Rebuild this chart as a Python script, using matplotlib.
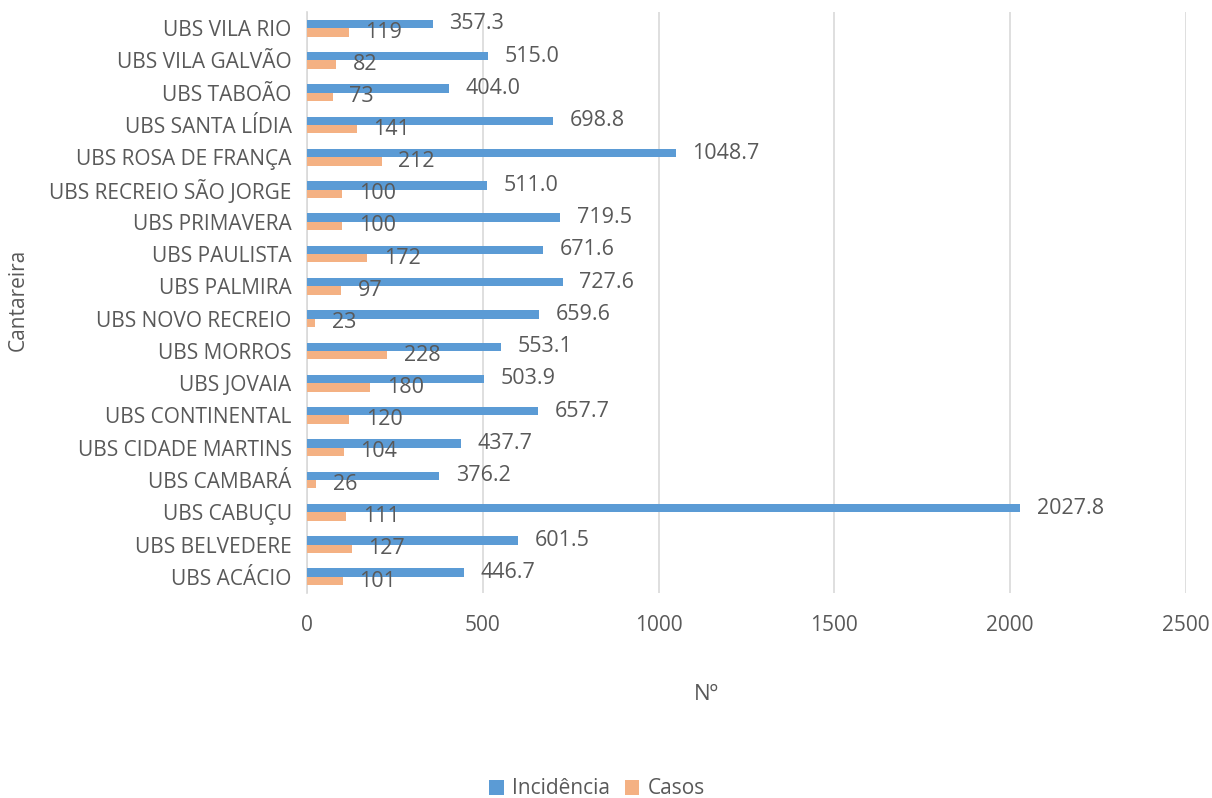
import numpy as np
import matplotlib.pyplot as plt

plt.rcParams['font.family'] = ['Open Sans', 'DejaVu Sans']

units = ['UBS ACÁCIO', 'UBS BELVEDERE', 'UBS CABUÇU', 'UBS CAMBARÁ', 'UBS CIDADE MARTINS',
         'UBS CONTINENTAL', 'UBS JOVAIA', 'UBS MORROS', 'UBS NOVO RECREIO', 'UBS PALMIRA',
         'UBS PAULISTA', 'UBS PRIMAVERA', 'UBS RECREIO SÃO JORGE', 'UBS ROSA DE FRANÇA',
         'UBS SANTA LÍDIA', 'UBS TABOÃO', 'UBS VILA GALVÃO', 'UBS VILA RIO']
incidencia = [446.7, 601.5, 2027.8, 376.2, 437.7, 657.7, 503.9, 553.1, 659.6, 727.6,
              671.6, 719.5, 511.0, 1048.7, 698.8, 404.0, 515.0, 357.3]
casos = [101, 127, 111, 26, 104, 120, 180, 228, 23, 97, 172, 100, 100, 212, 141, 73, 82, 119]

blue = '#5B9BD5'
orange = '#F4B183'
txt = '#595959'
grid = '#D9D9D9'

fig = plt.figure(figsize=(12.12, 7.98), dpi=100)
ax = fig.add_axes([0.2533, 0.2569, 0.7252, 0.7281])

y = np.arange(len(units))
h = 0.26
b1 = ax.barh(y + h/2, incidencia, height=h, color=blue, label='Incidência', zorder=3)
b2 = ax.barh(y - h/2, casos, height=h, color=orange, label='Casos', zorder=3)
ax.bar_label(b1, labels=['%.1f' % v for v in incidencia], padding=12, fontsize=15.5, color=txt)
ax.bar_label(b2, labels=['%d' % v for v in casos], padding=12, fontsize=15.5, color=txt)

ax.set_xlim(0, 2500)
ax.set_ylim(-0.5, len(units) - 0.5)
ax.set_xticks(np.arange(0, 2501, 500))
ax.set_yticks(y)
ax.set_yticklabels(units)
ax.tick_params(axis='both', length=0, labelsize=15, labelcolor=txt)
ax.tick_params(axis='x', pad=16)
ax.tick_params(axis='y', pad=11)
ax.xaxis.grid(True, color=grid, linewidth=1.2, zorder=0)
for s in ['top', 'right', 'bottom']:
    ax.spines[s].set_visible(False)
ax.spines['left'].set_color(grid)
ax.spines['left'].set_linewidth(1.2)

fig.text(0.5825, 1 - 694/798, 'Nº', ha='center', va='center', fontsize=16, color=txt)
fig.text(18/1212, 1 - 300/798, 'Cantareira', rotation=90, ha='center', va='center', fontsize=15, color=txt)

fig.legend(handles=[b1, b2], loc='center', bbox_to_anchor=(597/1212, 1 - 789/798), ncol=2,
           frameon=False, fontsize=15, labelcolor=txt, handlelength=0.7, handleheight=0.7,
           handletextpad=0.4, columnspacing=0.7)

fig.savefig('out.png', dpi=100)
